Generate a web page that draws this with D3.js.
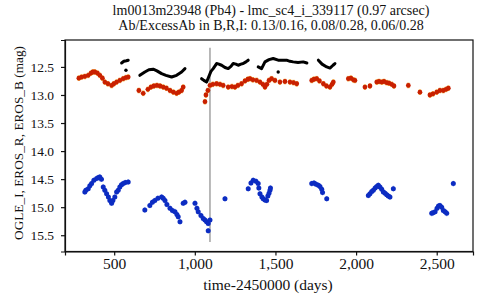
<!DOCTYPE html>
<html lang="en">
<head>
<meta charset="utf-8">
<title>Light curve</title>
<style>
  body { margin:0; background:white; }
  text { font-family:"Liberation Serif", "DejaVu Serif", serif; fill:#111; }
  .axis.x text { font-size:15.5px; }
  .axis.y text { font-size:13.5px; }
  .axis path, .axis line { stroke:#111; stroke-width:1.2; }
  .title { font-size:14px; }
  .xlabel { font-size:15.5px; }
  .ylabel { font-size:13.3px; }
</style>
</head>
<body>
<svg class="chart"></svg>
<script src="https://cdnjs.cloudflare.com/ajax/libs/d3/7.8.5/d3.min.js"></script>
<script>
// title lines
var titleLines = [
  "lm0013m23948 (Pb4) - lmc_sc4_i_339117 (0.97 arcsec)",
  "Ab/ExcessAb in B,R,I: 0.13/0.16, 0.08/0.28, 0.06/0.28"
];

// tick values
var xTicks = [500, 1000, 1500, 2000, 2500];
var yTicks = [12.5, 13.0, 13.5, 14.0, 14.5, 15.0, 15.5];

// OGLE I (black)
var ogleT = [546,560,576,587, 659,690,715,742,765,794,821,856,887,918,939,
  1042,1056,1073,1087,1100,1114,1135,1149,1166,1187,1207,1224,1238,1255,1269,1286,1300,1317,1331,
  1393,1414,1435,1460,1486,1517,1540,1569,1590,1610,1640,1672,1695,
  1766,1789,1818,1838,1857,1869];
var ogleMag = [12.43,12.40,12.39,12.38, 12.65,12.59,12.55,12.54,12.57,12.62,12.65,12.68,12.65,12.59,12.53,
  12.71,12.74,12.77,12.67,12.58,12.53,12.44,12.45,12.47,12.51,12.53,12.49,12.44,12.45,12.47,12.45,12.44,12.41,12.38,
  12.50,12.53,12.41,12.37,12.35,12.38,12.38,12.38,12.40,12.41,12.42,12.41,12.43,
  12.38,12.45,12.50,12.52,12.47,12.44];
// stray OGLE points
var ogleOddT = [573, 1517];
var ogleOddMag = [12.56, 12.59];

// EROS R (red)
var erosRT = [281,298,318,339,356,368,380,396,411,427,442,461,484,498,515,535,556,573,587,
  653,680,709,728,746,765,784,804,824,846,867,887,901,918,928,
  1063,1069,1081,1094,1112,1135,1156,1176,1207,1230,1249,1267,1290,1311,1329,1342,
  1360,1383,1404,1422,1435,1447,1460,1476,1497,1528,1559,1590,1612,1632,
  1725,1739,1756,1773,1797,1816,1838,1851,1859,
  1952,1968,1983,1993, 2055,2086,
  2128,2142,2159,2173,2190,2204,2221,2235, 2324,2396,
  2458,2477,2500,2520,2541,2558,2572];
var erosRMag = [12.70,12.68,12.67,12.65,12.61,12.59,12.59,12.61,12.65,12.70,12.77,12.80,12.83,12.80,12.77,12.74,12.71,12.69,12.68,
  12.92,12.97,12.90,12.86,12.84,12.83,12.84,12.86,12.88,12.92,12.95,12.97,12.95,12.92,12.86,
  13.12,13.00,12.92,12.83,12.81,12.80,12.81,12.83,12.86,12.85,12.86,12.83,12.80,12.75,12.72,12.71,
  12.73,12.74,12.77,12.81,12.86,12.81,12.74,12.71,12.74,12.77,12.76,12.77,12.78,12.80,
  12.74,12.72,12.71,12.75,12.80,12.84,12.86,12.81,12.77,
  12.71,12.70,12.73,12.74, 12.86,12.84,
  12.77,12.76,12.77,12.76,12.78,12.79,12.81,12.84, 12.83,12.95,
  13.00,12.98,12.95,12.92,12.92,12.90,12.88];
var erosRErr = 0.05;

// EROS B (blue)
var erosBT = [318,324,339,349,360,374,391,402,411,421,432,442,453,464,473,484,492,504,515,525,535,545,556,569,587,
  690,721,737,752,771,794,804,815,827,846,861,877,889,897,908, 928,939,
  1001,1013,1021,1038,1052,1063,1073,1083,1094,1083, 1187,
  1331,1348,1362,1379,1393,1397,1404,1416,1424,1435,1445,1453,1460,1466,1469,
  1725,1739,1752,1766,1776,1787,1792,1818,
  2076,2086,2097,2107,2118,2128,2138,2148,2159,2169,2180,2190,2200,2210,2231,
  2469,2477,2490,2502,2511,2520,2531,2541,2552,2562,2603];
var erosBMag = [14.73,14.70,14.67,14.62,14.58,14.52,14.49,14.47,14.46,14.50,14.64,14.70,14.76,14.82,14.88,14.93,14.88,14.82,14.73,14.70,14.64,14.60,14.58,14.56,14.55,
  15.05,14.97,14.91,14.88,14.84,14.82,14.84,14.88,14.95,15.02,15.06,15.08,15.13,15.17,15.26, 14.93,14.91,
  14.93,15.02,15.08,15.15,15.20,15.23,15.26,15.29,15.23,15.42, 14.85,
  14.67,14.57,14.52,14.54,14.58,14.66,14.76,14.82,14.85,14.87,14.88,14.80,14.75,14.70,14.66,
  14.58,14.57,14.59,14.61,14.63,14.68,14.74,14.85,
  14.79,14.76,14.72,14.70,14.66,14.63,14.61,14.64,14.68,14.73,14.75,14.78,14.80,14.82,14.67,
  15.11,15.10,15.08,15.02,14.98,14.97,15.00,15.06,15.08,15.11,14.58];
var erosBErr = 0.05;

// marker line (time, magnitude span)
var eventT = [1094];
var eventMag = [12.16, 15.62];

//canvas
var margin = {top:40, right:7, bottom:48.5, left:65};
var W = 480, H = 300;
var width = W - margin.left - margin.right,
    height = H - margin.top - margin.bottom;

var svg = d3.select('.chart').attr('width', W).attr('height', H);
var chart = svg.append('g')
  .attr('transform', 'translate(' + margin.left + ',' + margin.top + ')');

var x = d3.scaleLinear().domain([195, 2725]).range([0, width]);
var y = d3.scaleLinear().domain([12.02, 15.79]).range([0, height]);

function pairs(ts, ms) {
  return ts.map(function(t, i) { return [t, ms[i]]; });
}

//split into seasons wherever the time gap is large
function seasons(pts) {
  var out = [], cur = [];
  pts.forEach(function(p, i) {
    if (i > 0 && p[0] - pts[i-1][0] > 40) { out.push(cur); cur = []; }
    cur.push(p);
  });
  out.push(cur);
  return out;
}

//the event line
chart.append('line')
  .attr('x1', x(eventT[0])).attr('x2', x(eventT[0]))
  .attr('y1', y(eventMag[0])).attr('y2', y(eventMag[1]))
  .attr('stroke', '#8a8a8a').attr('stroke-width', 1.2);

//EROS R: orange error bars then red dots
var red = pairs(erosRT, erosRMag);
chart.append('g').selectAll('line').data(red).enter().append('line')
  .attr('x1', function(d){ return x(d[0]); }).attr('x2', function(d){ return x(d[0]); })
  .attr('y1', function(d){ return y(d[1] - erosRErr); })
  .attr('y2', function(d){ return y(d[1] + erosRErr); })
  .attr('stroke', '#f6b24c').attr('stroke-width', 2.5);
chart.append('g').selectAll('circle').data(red).enter().append('circle')
  .attr('cx', function(d){ return x(d[0]); })
  .attr('cy', function(d){ return y(d[1]); })
  .attr('r', 2.4)
  .attr('fill', '#c92000');

//EROS B
var blue = pairs(erosBT, erosBMag);
chart.append('g').selectAll('line').data(blue).enter().append('line')
  .attr('x1', function(d){ return x(d[0]); }).attr('x2', function(d){ return x(d[0]); })
  .attr('y1', function(d){ return y(d[1] - erosBErr); })
  .attr('y2', function(d){ return y(d[1] + erosBErr); })
  .attr('stroke', '#93aaf0').attr('stroke-width', 1.2);
chart.append('g').selectAll('circle').data(blue).enter().append('circle')
  .attr('cx', function(d){ return x(d[0]); })
  .attr('cy', function(d){ return y(d[1]); })
  .attr('r', 2.5)
  .attr('fill', '#0c2cc2');

//OGLE I, dense enough to read as a thick line
var black = pairs(ogleT, ogleMag);
var line = d3.line().x(function(d){ return x(d[0]); }).y(function(d){ return y(d[1]); });
chart.append('g').selectAll('path').data(seasons(black)).enter().append('path')
  .attr('d', line)
  .attr('fill', 'none')
  .attr('stroke', '#000')
  .attr('stroke-width', 3)
  .attr('stroke-linejoin', 'round')
  .attr('stroke-linecap', 'round');
chart.append('g').selectAll('circle').data(pairs(ogleOddT, ogleOddMag)).enter().append('circle')
  .attr('cx', function(d){ return x(d[0]); })
  .attr('cy', function(d){ return y(d[1]); })
  .attr('r', 1.7)
  .attr('fill', '#000');

//axes
var xAxis = d3.axisBottom(x).tickValues(xTicks).tickFormat(d3.format(',')).tickSizeOuter(0).tickSize(4).tickPadding(2);
var yAxis = d3.axisLeft(y).tickValues(yTicks).tickFormat(d3.format('.1f')).tickSizeOuter(0).tickSize(4).tickPadding(7);

chart.append('g')
  .attr('class', 'axis x')
  .attr('transform', 'translate(0,' + height + ')')
  .call(xAxis);
chart.append('g')
  .attr('class', 'axis y')
  .call(yAxis);

//frame
chart.append('rect')
  .attr('width', width).attr('height', height)
  .attr('fill', 'none').attr('stroke', '#111').attr('stroke-width', 1.2);

//titles
svg.append('g').selectAll('text').data(titleLines).enter().append('text')
  .attr('class', 'title')
  .attr('x', 271)
  .attr('y', function(d, i){ return 14.5 + i * 15; })
  .attr('text-anchor', 'middle')
  .text(function(d){ return d; });

svg.append('text')
  .attr('class', 'xlabel')
  .attr('x', 268).attr('y', 290)
  .attr('text-anchor', 'middle')
  .text('time-2450000 (days)');

svg.append('text')
  .attr('class', 'ylabel')
  .attr('transform', 'translate(23,143) rotate(-90)')
  .attr('text-anchor', 'middle')
  .text('OGLE_I, EROS_R, EROS_B (mag)');
</script>
</body>
</html>
